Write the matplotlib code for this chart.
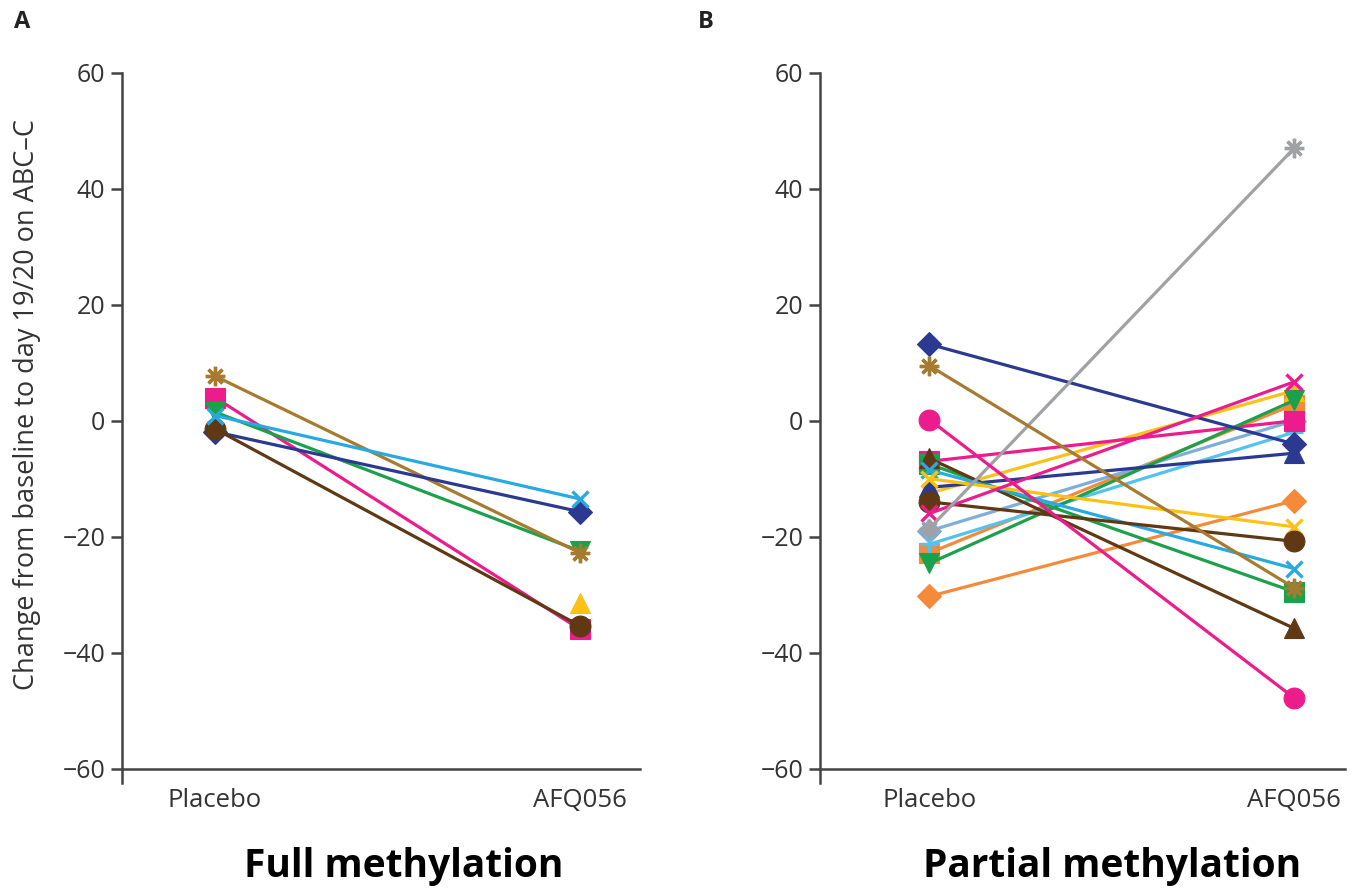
import matplotlib
matplotlib.use("Agg")
import matplotlib.pyplot as plt

plt.rcParams['font.family'] = ['Open Sans', 'DejaVu Sans']

grupos = ["Placebo", "AFQ056"]

# cores usadas nas figuras
NAVY = "#2B3990"
OURO = "#A77B2F"
MAGENTA = "#EC1C8C"
MARROM = "#603813"
VERDE = "#1BA14B"
CIANO = "#27AAE1"
AMARELO = "#FDC016"
CINZA = "#9FA1A4"
LARANJA = "#F48A3A"
AZUL_CLARO = "#7DAFDC"
AZUL_CEU = "#54C2EE"
ASTERISCO = (8, 2, 0)

# painel A - metilação completa (placebo, AFQ056); amarelo sem valor visível no placebo
a_placebo = [float("nan"), 4.0, 1.5, 7.7, -1.9, -1.4, 0.9]
a_afq = [-31.5, -36.0, -22.5, -22.8, -15.7, -35.4, -13.5]
a_cores = [AMARELO, MAGENTA, VERDE, OURO, NAVY, MARROM, CIANO]
a_marcas = ["^", "s", "v", ASTERISCO, "D", "o", "x"]

# painel B - metilação parcial
b_placebo = [-30.3, -22.8, -19.0, -21.3, -12.5, -7.0, -24.6, 13.2, -11.5, -7.5,
             -6.5, -8.5, -10.0, -14.0, -16.0, -18.6, 9.5, 0.2]
b_afq = [-13.8, 2.8, 0.0, -2.0, 5.2, 0.0, 3.5, -4.0, -5.6, -29.5,
         -35.8, -25.5, -18.3, -20.8, 6.7, 47.0, -28.8, -47.8]
b_cores = [LARANJA, LARANJA, AZUL_CLARO, AZUL_CEU, AMARELO, MAGENTA, VERDE, NAVY, NAVY, VERDE,
           MARROM, CIANO, AMARELO, MARROM, MAGENTA, CINZA, OURO, MAGENTA]
b_marcas = ["D", "s", "D", "+", "^", "s", "v", "D", "^", "s",
            "^", "x", "x", "o", "x", ASTERISCO, ASTERISCO, "o"]

tamanhos = {"D": 12, "s": 15, "^": 15, "v": 15, "o": 15, "x": 12, "+": 13, ASTERISCO: 14}


def desenha(ax, placebo, afq, cores, marcas, xlim):
    for p, a, c, m in zip(placebo, afq, cores, marcas):
        mew = 2.4 if m in ("x", "+", ASTERISCO) else 0.8
        ax.plot([0, 1], [p, a], color=c, lw=2.3, marker=m, ms=tamanhos[m],
                mfc=c, mec=c, mew=mew, solid_capstyle="round")
    ax.set_xlim(*xlim)
    ax.set_ylim(-62.5, 60)
    ax.set_yticks([-60, -40, -20, 0, 20, 40, 60])
    ax.set_yticklabels(["\u221260", "\u221240", "\u221220", "0", "20", "40", "60"])
    ax.set_xticks([0, 1])
    ax.set_xticklabels(grupos)
    for lado in ("top", "right"):
        ax.spines[lado].set_visible(False)
    ax.spines["bottom"].set_position(("data", -60))
    ax.spines["left"].set_bounds(-62.5, 60)
    for lado in ("bottom", "left"):
        ax.spines[lado].set_color("#444444")
        ax.spines[lado].set_linewidth(1.8)
    ax.tick_params(axis="y", direction="out", length=8, width=1.8, color="#444444",
                   labelsize=18, labelcolor="#333333", pad=4)
    ax.tick_params(axis="x", length=0, labelsize=18.5, labelcolor="#333333", pad=14)


fig = plt.figure(figsize=(13.62, 8.89), dpi=100)

ax_a = fig.add_axes([122 / 1362, 1 - 783 / 889, 518 / 1362, 710 / 889])
desenha(ax_a, a_placebo, a_afq, a_cores, a_marcas, (-0.255, 1.164))

ax_b = fig.add_axes([820 / 1362, 1 - 783 / 889, 525 / 1362, 710 / 889])
desenha(ax_b, b_placebo, b_afq, b_cores, b_marcas, (-0.30, 1.14))

fig.text(27 / 1362, 1 - 405 / 889, "Change from baseline to day 19/20 on ABC\u2013C",
         rotation=90, ha="center", va="center", fontsize=19.5, color="#333333")

fig.text(14 / 1362, 1 - 22 / 889, "A", fontsize=17, fontweight="bold", va="center", color="#222222")
fig.text(698 / 1362, 1 - 22 / 889, "B", fontsize=17, fontweight="bold", va="center", color="#222222")

fig.text(404 / 1362, 1 - 866 / 889, "Full methylation", fontsize=28, fontweight="bold",
         ha="center", va="center")
fig.text(1112 / 1362, 1 - 866 / 889, "Partial methylation", fontsize=28, fontweight="bold",
         ha="center", va="center")

fig.savefig("out.png", dpi=100)
